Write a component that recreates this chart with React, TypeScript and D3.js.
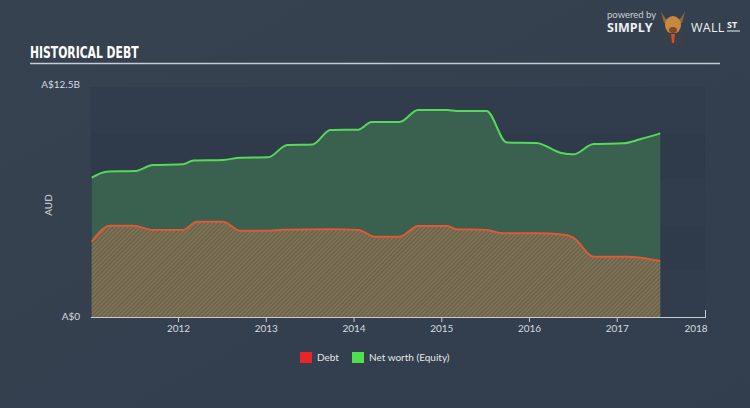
import React from "react";
import * as d3 from "d3";

const equityDates = [2011.01, 2011.18, 2011.5, 2011.71, 2012.05, 2012.17, 2012.51, 2012.7, 2013.02, 2013.24, 2013.53, 2013.73, 2014.05, 2014.2, 2014.52, 2014.73, 2015.06, 2015.17, 2015.51, 2015.74, 2016.08, 2016.35, 2016.5, 2016.73, 2017.07, 2017.26, 2017.49];
const equityValues = [7.57, 7.9, 7.93, 8.26, 8.3, 8.5, 8.53, 8.66, 8.68, 9.35, 9.38, 10.16, 10.18, 10.6, 10.6, 11.25, 11.25, 11.2, 11.2, 9.49, 9.46, 8.93, 8.84, 9.4, 9.44, 9.66, 9.98];

const debtDates = [2011.01, 2011.22, 2011.48, 2011.71, 2012.05, 2012.21, 2012.51, 2012.7, 2013.04, 2013.19, 2013.73, 2014.05, 2014.24, 2014.52, 2014.73, 2015.06, 2015.17, 2015.51, 2015.7, 2016.08, 2016.38, 2016.5, 2016.73, 2017.11, 2017.49];
const debtValues = [4.09, 4.96, 4.96, 4.73, 4.73, 5.18, 5.18, 4.69, 4.69, 4.74, 4.77, 4.73, 4.36, 4.36, 4.95, 4.95, 4.77, 4.73, 4.55, 4.55, 4.49, 4.31, 3.28, 3.28, 3.04];

const yearTicks = [2012, 2013, 2014, 2015, 2016, 2017, 2018];
const yMax = 12.5;
const legendItems = [
  { label: "Debt", color: "#e8262a" },
  { label: "Net worth (Equity)", color: "#4fe04f" },
];

export default function App() {
  const W = 750, H = 408;
  const x = d3.scaleLinear().domain([2011, 2018]).range([90.8, 705]);
  const y = d3.scaleLinear().domain([0, yMax]).range([317, 87]);
  const equity = equityDates.map((d, i) => ({ d, v: equityValues[i] }));
  const debt = debtDates.map((d, i) => ({ d, v: debtValues[i] }));
  const area = d3.area<{ d: number; v: number }>().x(p => x(p.d)).y0(y(0)).y1(p => y(p.v)).curve(d3.curveMonotoneX);
  const line = d3.line<{ d: number; v: number }>().x(p => x(p.d)).y(p => y(p.v)).curve(d3.curveMonotoneX);
  const bands = d3.range(0, 5).map(i => i * 2.5);
  const font = "Lato, 'Open Sans', sans-serif";

  return (
    <svg width={W} height={H} style={{ position: "absolute", left: 0, top: 0, display: "block" }}>
      <defs>
        <linearGradient id="bg" x1="0" y1="0" x2="1" y2="1">
          <stop offset="0" stopColor="#36424f" />
          <stop offset="1" stopColor="#323e4e" />
        </linearGradient>
        <pattern id="hatch" patternUnits="userSpaceOnUse" width="3" height="3" patternTransform="rotate(45)">
          <rect width="3" height="3" fill="#7f7152" />
          <line x1="0" y1="0" x2="0" y2="3" stroke="#55574a" strokeWidth="1.4" />
        </pattern>
      </defs>
      <rect width={W} height={H} fill="url(#bg)" />

      {/* logo */}
      <text x={607} y={18} fontFamily={font} fontSize={9.5} fill="#c9ced6">powered by</text>
      <text x={607} y={32} fontFamily="'Open Sans', sans-serif" fontWeight={700} fontSize={12.5} fill="#eef0f3">SIMPLY</text>
      <g transform="translate(673,25)">
        <path d="M-12,-13 L-7,-6 L7,-6 L12,-13 L9,-2 L-9,-2 Z" fill="#8a6a3a" />
        <ellipse cx={0} cy={0} rx={8} ry={9} fill="#c8893e" />
        <ellipse cx={0} cy={5} rx={4} ry={3} fill="#7a4a26" />
        <path d="M-9,8 L9,8 L12,20 L-12,20 Z" fill="#3b3f47" />
        <path d="M-2,9 L2,9 L1,18 L-1,18 Z" fill="#d0502c" />
      </g>
      <text x={691} y={32} fontFamily="'Open Sans', sans-serif" fontSize={12.5} fill="#eef0f3" letterSpacing={0.3}>WALL</text>
      <text x={727} y={28} fontFamily="'Open Sans', sans-serif" fontWeight={700} fontSize={9} fill="#eef0f3">ST</text>
      <line x1={727} y1={31} x2={740} y2={31} stroke="#eef0f3" strokeWidth={1} />

      {/* title */}
      <text x={30} y={58} fontFamily="'Liberation Sans Narrow', 'DejaVu Sans Condensed', sans-serif" fontWeight={700} fontSize={15} fill="#ffffff" transform="translate(30,58) scale(0.8,1) translate(-30,-58)">HISTORICAL DEBT</text>
      <line x1={30} y1={63.5} x2={720} y2={63.5} stroke="#c6ccd4" strokeWidth={1.5} />

      {/* plot bands */}
      {bands.map((b, i) => (
        <rect key={b} x={x(2011)} y={y(b + 2.5)} width={x(2018) - x(2011)} height={y(b) - y(b + 2.5)} fill={i % 2 === 0 ? "#313d4c" : "#2f3a4a"} />
      ))}

      {/* areas */}
      <path d={area(equity) || ""} fill="#3a604f" />
      <path d={area(debt) || ""} fill="url(#hatch)" />
      <path d={line(equity) || ""} fill="none" stroke="#56d957" strokeWidth={2} />
      <path d={line(debt) || ""} fill="none" stroke="#dd5a36" strokeWidth={2} />

      {/* y labels */}
      <text x={80} y={88} textAnchor="end" fontFamily={font} fontSize={10} fill="#d5dae0">A$12.5B</text>
      <text x={80} y={320} textAnchor="end" fontFamily={font} fontSize={10} fill="#d5dae0">A$0</text>
      <text transform="translate(52,205) rotate(-90)" textAnchor="middle" fontFamily={font} fontSize={10} fill="#d5dae0">AUD</text>

      {/* x axis */}
      <line x1={x(2011)} y1={317.5} x2={x(2018)} y2={317.5} stroke="#c6ccd4" strokeWidth={1} />
      <line x1={x(2018) + 0.5} y1={310} x2={x(2018) + 0.5} y2={318} stroke="#c6ccd4" strokeWidth={1} />
      {yearTicks.map(t => (
        <g key={t}>
          {t < 2018 && <line x1={x(t)} y1={317} x2={x(t)} y2={322} stroke="#c6ccd4" strokeWidth={1} />}
          <text x={t === 2018 ? x(t) - 9 : x(t)} y={332} textAnchor="middle" fontFamily={font} fontSize={10} fill="#d5dae0">{t}</text>
        </g>
      ))}

      {/* legend */}
      {legendItems.map((it, i) => {
        const lx = i === 0 ? 300 : 352;
        return (
          <g key={it.label}>
            <rect x={lx} y={352} width={12} height={11} fill={it.color} />
            <text x={lx + 17} y={361} fontFamily={font} fontSize={10} fill="#e3e6ea">{it.label}</text>
          </g>
        );
      })}
    </svg>
  );
}
